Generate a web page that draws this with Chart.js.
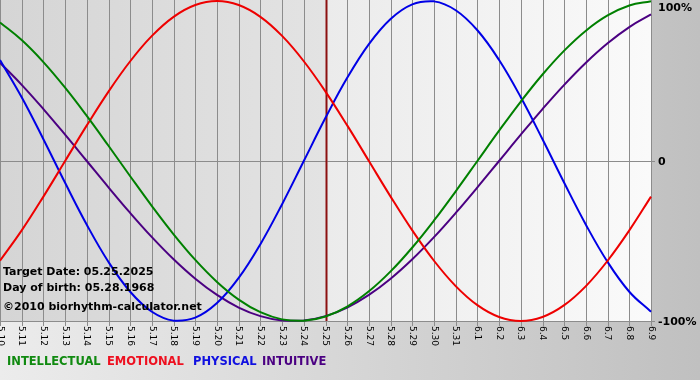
<!DOCTYPE html>
<html>
<head>
<meta charset="utf-8">
<script src="https://cdn.jsdelivr.net/npm/chart.js@4/dist/chart.umd.min.js"></script>
<style>
html,body{margin:0;padding:0;background:#fff;}
canvas{display:block;}
</style>
</head>
<body>
<canvas id="c" width="700" height="380"></canvas>
<script>
const labels = ['5.10','5.11','5.12','5.13','5.14','5.15','5.16','5.17','5.18','5.19','5.20','5.21','5.22','5.23','5.24','5.25','5.26','5.27','5.28','5.29','5.30','5.31','6.1','6.2','6.3','6.4','6.5','6.6','6.7','6.8','6.9'];
const intellectual = [0.8660,0.7557,0.6182,0.4582,0.2817,0.0951,-0.0951,-0.2817,-0.4582,-0.6182,-0.7557,-0.8660,-0.9450,-0.9898,-0.9989,-0.9718,-0.9096,-0.8146,-0.6901,-0.5406,-0.3717,-0.1893,0,0.1893,0.3717,0.5406,0.6901,0.8146,0.9096,0.9718,0.9989];
const emotional = [-0.6235,-0.4339,-0.2225,0,0.2225,0.4339,0.6235,0.7818,0.9010,0.9749,1,0.9749,0.9010,0.7818,0.6235,0.4339,0.2225,0,-0.2225,-0.4339,-0.6235,-0.7818,-0.9010,-0.9749,-1,-0.9749,-0.9010,-0.7818,-0.6235,-0.4339,-0.2225];
const physical = [0.6311,0.3984,0.1362,-0.1362,-0.3984,-0.6311,-0.8170,-0.9423,-0.9977,-0.9791,-0.8879,-0.7308,-0.5196,-0.2698,0,0.2698,0.5196,0.7308,0.8879,0.9791,0.9977,0.9423,0.8170,0.6311,0.3984,0.1362,-0.1362,-0.3984,-0.6311,-0.8170,-0.9423];
const intuitive = [0.6142,0.4759,0.3247,0.1646,0,-0.1646,-0.3247,-0.4759,-0.6142,-0.7357,-0.8372,-0.9158,-0.9694,-0.9966,-0.9966,-0.9694,-0.9158,-0.8372,-0.7357,-0.6142,-0.4759,-0.3247,-0.1646,0,0.1646,0.3247,0.4759,0.6142,0.7357,0.8372,0.9158];
const seriesNames = ['INTELLECTUAL','EMOTIONAL','PHYSICAL','INTUITIVE'];
const seriesColors = ['#008000','#ee0000','#0000e6','#4b0082'];
const legendColors = ['#108a10','#ee1020','#1010e0','#4b0082'];
const yTickValues = [1, 0, -1];
const yTickLabels = ['100%','0','-100%'];
const targetLabel = '5.25';
const infoLines = ['Target Date: 05.25.2025','Day of birth: 05.28.1968','©2010 biorhythm-calculator.net'];

const FONT = "'DejaVu Sans', Verdana, sans-serif";
const legendX = [7, 107, 193, 262];

const decor = {
  id: 'decor',
  beforeDraw(chart) {
    const ctx = chart.ctx;
    const W = chart.width, H = chart.height;
    ctx.save();
    const g = ctx.createLinearGradient(0, 0, W, 0);
    g.addColorStop(0, '#ececec');
    g.addColorStop(1, '#c0c0c0');
    ctx.fillStyle = g;
    ctx.fillRect(0, 0, W, H);
    ctx.restore();
  },
  beforeDatasetsDraw(chart) {
    const ctx = chart.ctx;
    const a = chart.chartArea;
    const xs = chart.scales.x, ys = chart.scales.y;
    const tx = xs.getPixelForValue(labels.indexOf(targetLabel));
    ctx.save();
    let g1 = ctx.createLinearGradient(a.left, 0, tx, 0);
    g1.addColorStop(0, '#d5d5d5');
    g1.addColorStop(1, '#e3e3e3');
    ctx.fillStyle = g1;
    ctx.fillRect(a.left, 0, tx - a.left, a.bottom);
    let g2 = ctx.createLinearGradient(tx, 0, a.right, 0);
    g2.addColorStop(0, '#ebebeb');
    g2.addColorStop(1, '#fafafa');
    ctx.fillStyle = g2;
    ctx.fillRect(tx, 0, a.right - tx, a.bottom);
    ctx.strokeStyle = '#8c8c8c';
    ctx.lineWidth = 1;
    for (let i = 0; i < labels.length; i++) {
      const x = Math.round(xs.getPixelForValue(i)) + 0.5;
      ctx.beginPath();
      ctx.moveTo(x, 0);
      ctx.lineTo(x, a.bottom + 5);
      ctx.stroke();
    }
    const y0 = Math.round(ys.getPixelForValue(0)) + 0.5;
    ctx.beginPath(); ctx.moveTo(a.left, y0); ctx.lineTo(a.right + 4, y0); ctx.stroke();
    const yb = Math.round(ys.getPixelForValue(-1)) + 0.5;
    ctx.beginPath(); ctx.moveTo(a.left, yb); ctx.lineTo(a.right + 4, yb); ctx.stroke();
    ctx.strokeStyle = '#8b1010';
    ctx.lineWidth = 2;
    ctx.beginPath(); ctx.moveTo(Math.round(tx) + 0.5, 0); ctx.lineTo(Math.round(tx) + 0.5, a.bottom); ctx.stroke();
    ctx.restore();
  },
  afterDatasetsDraw(chart) {
    const ctx = chart.ctx;
    const a = chart.chartArea;
    const xs = chart.scales.x, ys = chart.scales.y;
    ctx.save();
    ctx.fillStyle = '#000';
    ctx.font = '9px ' + FONT;
    ctx.textAlign = 'left';
    ctx.textBaseline = 'middle';
    for (let i = 0; i < labels.length; i++) {
      const x = xs.getPixelForValue(i);
      ctx.save();
      ctx.translate(x, a.bottom + 5);
      ctx.rotate(Math.PI / 2);
      ctx.fillText(labels[i], 0, 0);
      ctx.restore();
    }
    ctx.font = 'bold 11px ' + FONT;
    ctx.textBaseline = 'middle';
    for (let i = 0; i < yTickValues.length; i++) {
      let y = ys.getPixelForValue(yTickValues[i]);
      y = Math.max(y, 7);
      ctx.fillText(yTickLabels[i], a.right + 7, y + 1);
    }
    ctx.font = 'bold 11px ' + FONT;
    ctx.fillText(infoLines[0], 3, 272);
    ctx.fillText(infoLines[1], 3, 288);
    ctx.fillText(infoLines[2], 3, 307);
    ctx.font = 'bold 11.5px ' + FONT;
    for (let i = 0; i < seriesNames.length; i++) {
      ctx.fillStyle = legendColors[i];
      ctx.fillText(seriesNames[i], legendX[i], 362);
    }
    ctx.restore();
  }
};

new Chart(document.getElementById('c'), {
  type: 'line',
  data: {
    labels: labels,
    datasets: [
      { label: seriesNames[0], data: intellectual, borderColor: seriesColors[0] },
      { label: seriesNames[1], data: emotional, borderColor: seriesColors[1] },
      { label: seriesNames[2], data: physical, borderColor: seriesColors[2] },
      { label: seriesNames[3], data: intuitive, borderColor: seriesColors[3] }
    ]
  },
  options: {
    responsive: false,
    animation: false,
    events: [],
    layout: { padding: { left: 0, right: 49, top: 1, bottom: 59 } },
    elements: {
      line: { tension: 0.4, borderWidth: 2, fill: false },
      point: { radius: 0 }
    },
    datasets: { line: { clip: false } },
    plugins: { legend: { display: false }, tooltip: { enabled: false } },
    scales: {
      x: { display: false, offset: false },
      y: { display: false, min: -1, max: 1 }
    }
  },
  plugins: [decor]
});
</script>
</body>
</html>
